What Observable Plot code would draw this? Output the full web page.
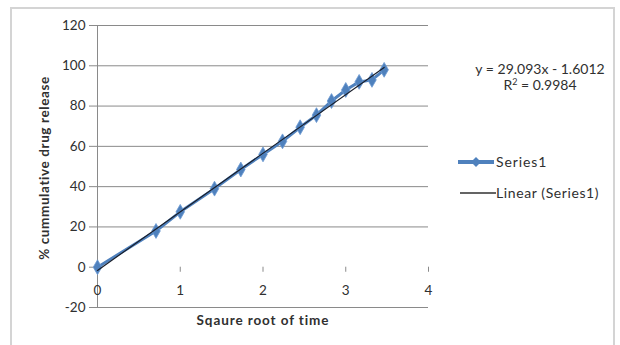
<!DOCTYPE html>
<html>
<head>
<meta charset="utf-8">
<script src="https://cdn.jsdelivr.net/npm/d3@7"></script>
<script src="https://cdn.jsdelivr.net/npm/@observablehq/plot@0.6"></script>
<style>
  body { margin: 0; background: #fff; }
  #wrap { position: relative; width: 620px; height: 345px; overflow: hidden; font-family: Lato, "Open Sans", sans-serif; }
  #frame { position: absolute; left: 10px; top: 7px; width: 605px; height: 360px; border: 2px solid #d4d4d4; box-sizing: border-box; }
  .lbl { position: absolute; color: #303030; white-space: nowrap; line-height: 1; }
  #chart { position: absolute; left: 0; top: 0; }
</style>
</head>
<body>
<div id="wrap">
  <div id="frame"></div>
  <div id="chart"></div>
  <div class="lbl" id="ytitle" style="left:45px; top:168px; font-weight:bold; font-size:13.5px; letter-spacing:0.6px; transform: translate(-50%,-50%) rotate(-90deg);"></div>
  <div class="lbl" id="xtitle" style="left:263px; top:321px; font-weight:bold; font-size:13.5px; letter-spacing:0.9px; transform: translate(-50%,-50%);"></div>
  <div class="lbl" id="eq1" style="left:540px; top:69px; font-size:14px; transform: translate(-50%,-50%);"></div>
  <div class="lbl" id="eq2" style="left:540px; top:85px; font-size:14px; transform: translate(-50%,-50%);"></div>
  <div class="lbl" style="left:456px; top:152px;">
    <svg width="40" height="20" style="vertical-align:middle"><line x1="2" y1="10" x2="38" y2="10" stroke="#4F81BD" stroke-width="4"/><path d="M20,5 L25,10 L20,15 L15,10 Z" fill="#4F81BD"/></svg><span id="leg1" style="font-size:14px; letter-spacing:0.9px; vertical-align:middle;"></span>
  </div>
  <div class="lbl" style="left:456px; top:183px;">
    <svg width="40" height="20" style="vertical-align:middle"><line x1="4" y1="10" x2="40" y2="10" stroke="#303030" stroke-width="1.3"/></svg><span id="leg2" style="font-size:14px; letter-spacing:0.6px; vertical-align:middle;"></span>
  </div>
</div>
<script>
// ---- data ----
const sqrtTime = [0, 0.707, 1, 1.414, 1.732, 2, 2.236, 2.449, 2.646, 2.828, 3, 3.162, 3.317, 3.464];
const cumulativeRelease = [0, 18, 27.5, 39, 48.5, 56, 62.5, 69.5, 75.5, 82.5, 88, 92, 93, 98];
const trendSlope = 29.093;
const trendIntercept = -1.6012;
const rSquared = "0.9984";
const xTicks = [0, 1, 2, 3, 4];
const yTicks = [-20, 0, 20, 40, 60, 80, 100, 120];
const seriesName = "Series1";
const trendName = "Linear (Series1)";
const xTitle = "Sqaure root of time";
const yTitle = "% cummulative drug release";

const data = sqrtTime.map((x, i) => ({x, y: cumulativeRelease[i]}));
const trendX = [sqrtTime[0], sqrtTime[sqrtTime.length - 1]];
const trend = trendX.map(x => ({x, y: trendSlope * x + trendIntercept}));

const chart = Plot.plot({
  width: 620,
  height: 345,
  marginLeft: 97,
  marginRight: 192,
  marginTop: 25,
  marginBottom: 38,
  x: {domain: [0, 4]},
  y: {domain: [-20, 120]},
  style: {fontFamily: "Lato, 'Open Sans', sans-serif", fontSize: "13.5px", color: "#303030", background: "transparent", overflow: "visible"},
  marks: [
    Plot.gridY(yTicks.filter(d => d !== 0), {stroke: "#8a8a8a", strokeOpacity: 1, strokeWidth: 1}),
    Plot.axisY(yTicks, {tickSize: 8, tickPadding: 4, stroke: "#8a8a8a", label: null, tickFormat: d => String(d)}),
    Plot.axisX({ticks: [], label: null, tickSize: 0}),
    Plot.ruleX([0], {stroke: "#8a8a8a", strokeWidth: 1}),
    Plot.ruleX(xTicks, {x: d => d, y1: 0, y2: -2.5, stroke: "#8a8a8a"}),
    Plot.text(xTicks, {x: d => d, y: 0, dy: 23, text: d => String(d), fontSize: 13.5, fill: "#303030"}),
    Plot.line(data, {x: "x", y: "y", stroke: "#4F81BD", strokeWidth: 3}),
    Plot.dot(data, {x: "x", y: "y", symbol: "diamond", r: 4.5, fill: "#4F81BD", stroke: "#6d9bd3", strokeWidth: 0.8}),
    Plot.line(trend, {x: "x", y: "y", stroke: "#1a1f2b", strokeWidth: 1.2})
  ]
});
document.getElementById("chart").appendChild(chart);
document.getElementById("ytitle").textContent = yTitle;
document.getElementById("xtitle").textContent = xTitle;
document.getElementById("eq1").textContent = `y = ${trendSlope}x - ${Math.abs(trendIntercept)}`;
document.getElementById("eq2").innerHTML = `R<span style="font-size:9px; position:relative; top:-5px">2</span> = ${rSquared}`;
document.getElementById("leg1").textContent = seriesName;
document.getElementById("leg2").textContent = trendName;
</script>
</body>
</html>
